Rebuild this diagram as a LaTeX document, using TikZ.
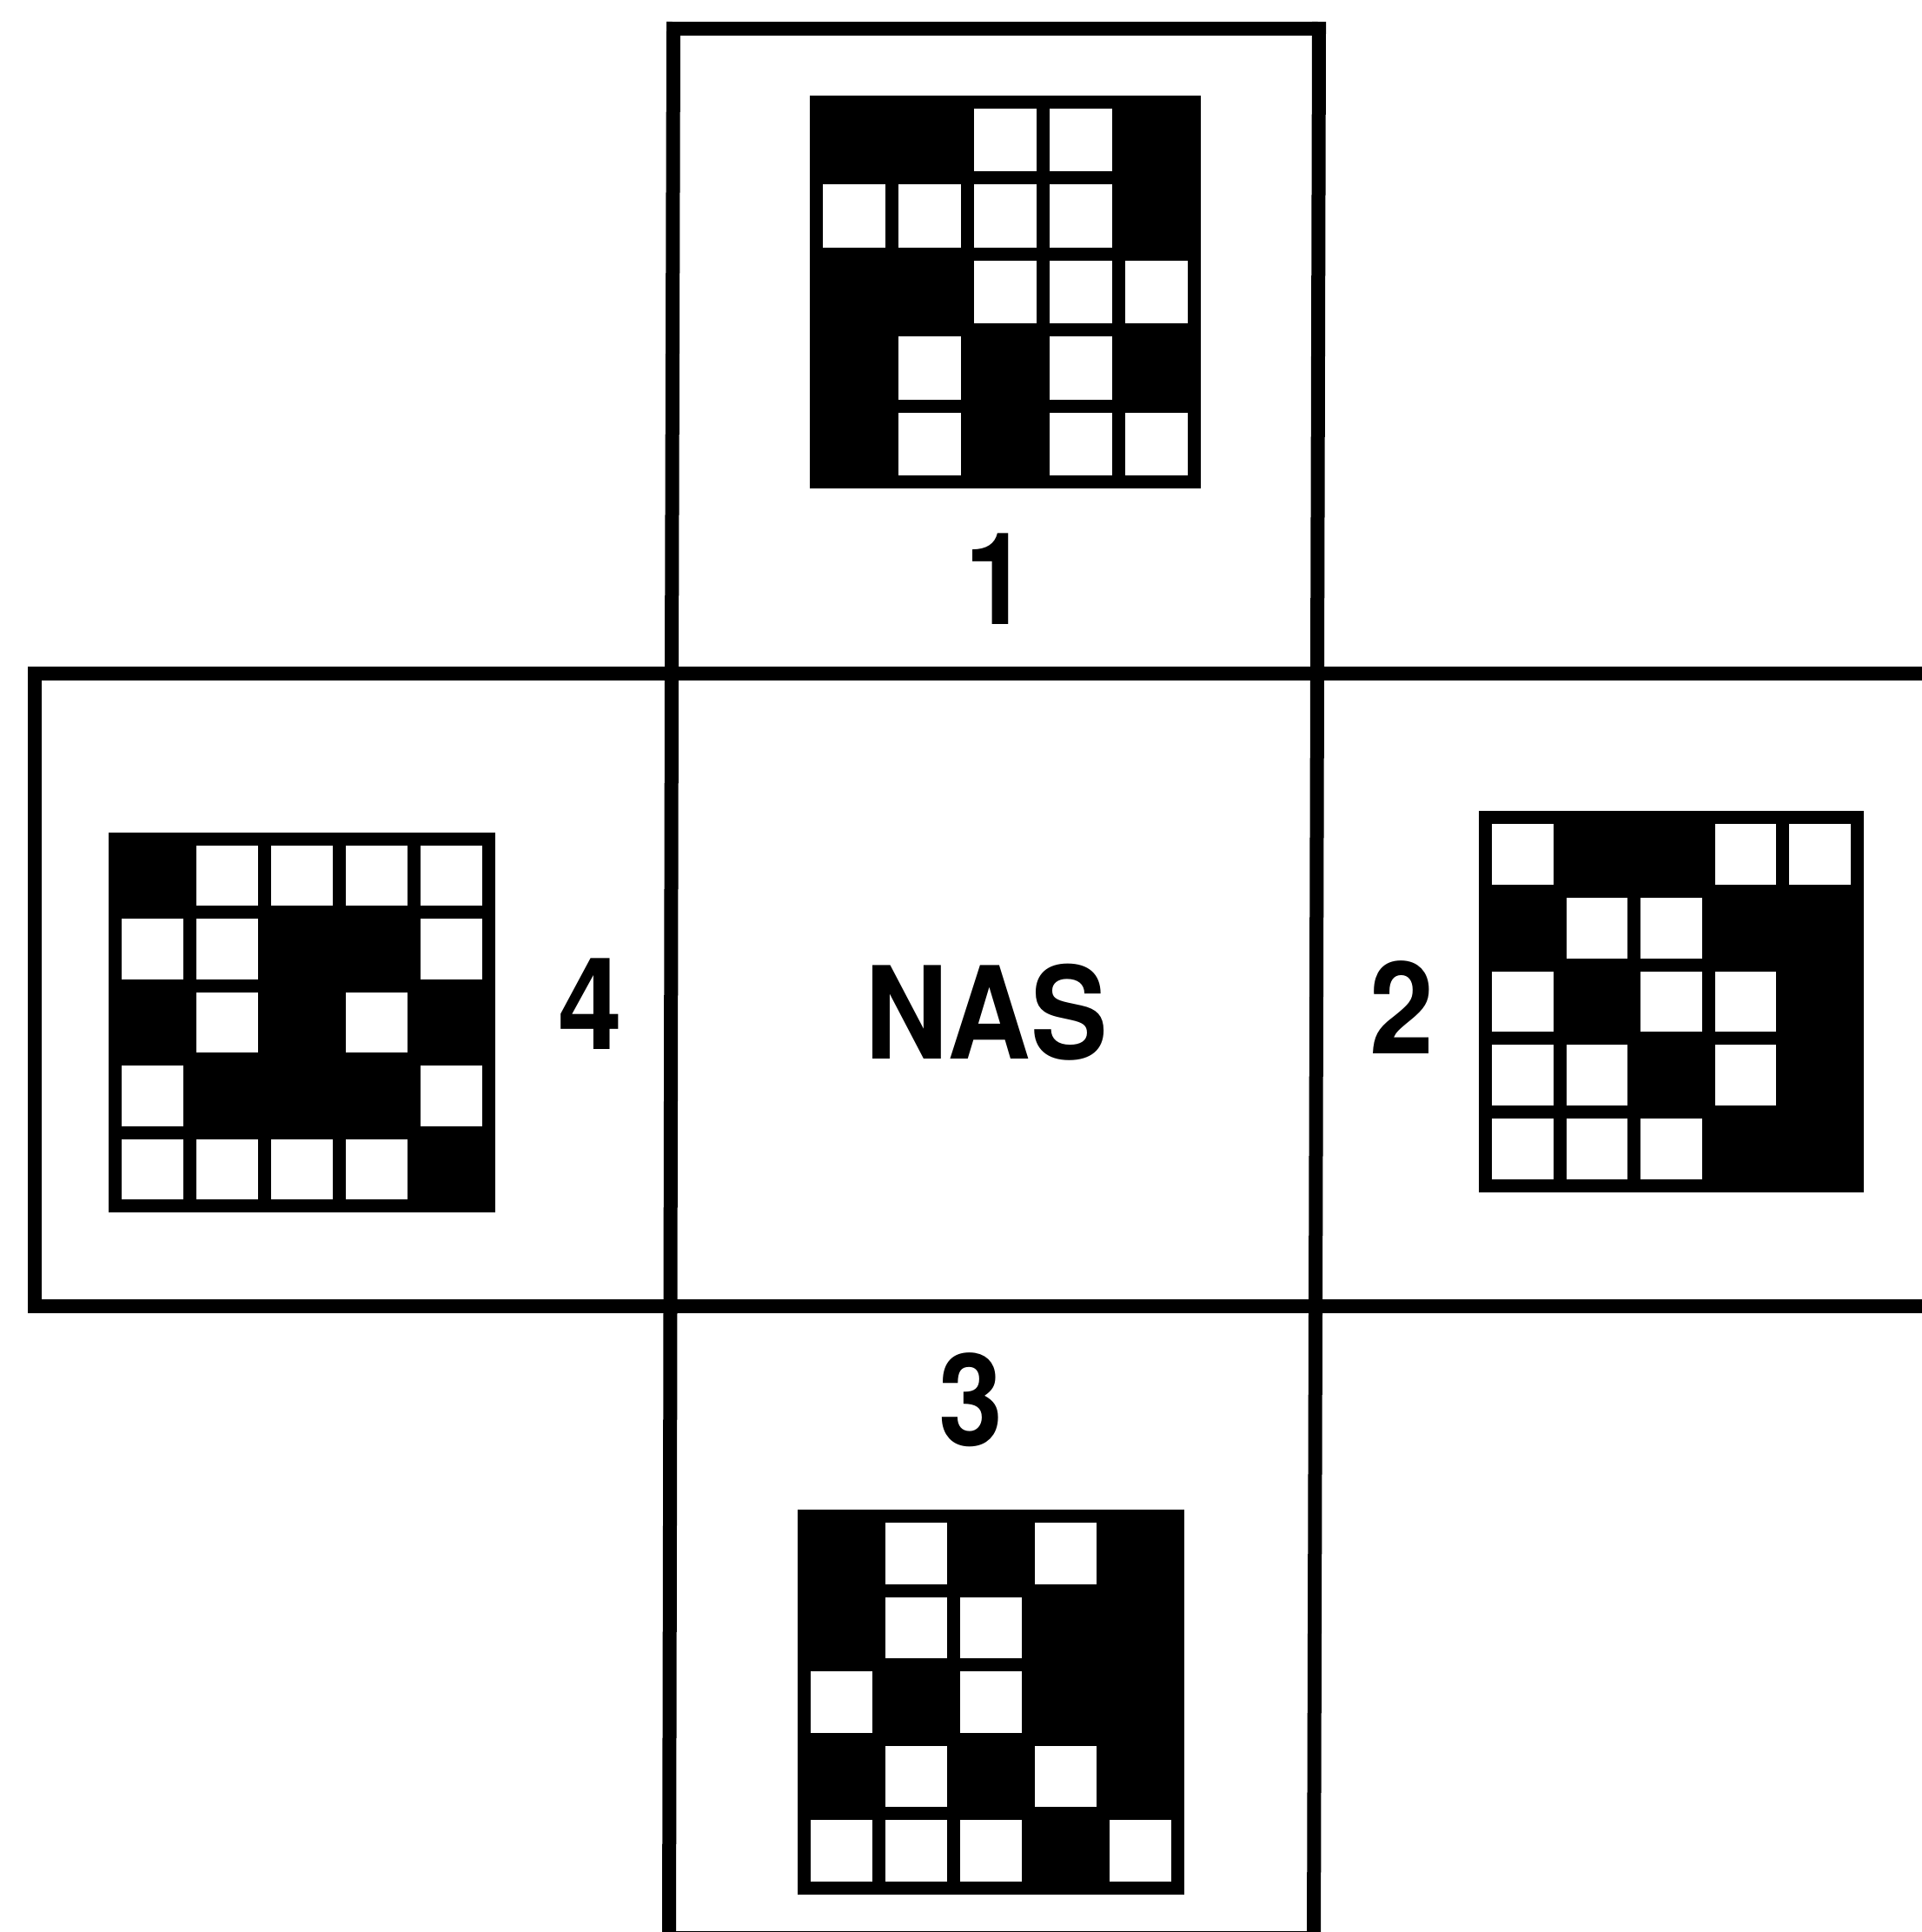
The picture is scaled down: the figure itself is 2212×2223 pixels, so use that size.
\documentclass[tikz,border=0pt]{standalone}
\usepackage{fontspec}
\setmainfont{TeX Gyre Heros}
\tikzset{
  frame/.style={line width=16*0.1mm, line cap=rect, line join=miter, black},
  lbl/.style={inner sep=0pt, anchor=base, font=\fontsize{42}{42}\selectfont\bfseries},
}
\newcommand\narrow[1]{\scalebox{0.9}[1]{#1}}
\newcommand\drawgrid[5]{%
  \fill[black] (#1,-#2) rectangle ++(#3,-#4);
  \pgfmathsetmacro\gcw{(#3-30-4*15)/5}%
  \pgfmathsetmacro\gch{(#4-30-4*15)/5}%
  \foreach \gci/\gri in {#5}{%
    \fill[white] ({#1+15+(\gci-1)*(\gcw+15)},{-#2-15-(\gri-1)*(\gch+15)}) rectangle ++(\gcw,-\gch);
  }%
}
\begin{document}
\begin{tikzpicture}[x=0.1mm,y=0.1mm]
\useasboundingbox (0,0) rectangle (2212,-2223);
\clip (0,0) rectangle (2212,-2223);
\fill[white] (0,0) rectangle (2212,-2223);
% frame lines
\draw[frame] (775,-33) -- (1518,-33);
\draw[frame] (775,-33) -- (773,-775) -- (770,-2240);
\draw[frame] (1518,-33) -- (1516,-775) -- (1512,-2240);
\draw[frame] (40,-775) -- (2240,-775);
\draw[frame] (40,-1503) -- (2240,-1503);
\draw[frame] (40,-775) -- (40,-1503);
\draw[frame, line cap=butt] (770,-2230) -- (1512,-2230);
% grids
\drawgrid{932}{110}{450}{452}{3/1,4/1,1/2,2/2,3/2,4/2,3/3,4/3,5/3,2/4,4/4,2/5,4/5,5/5}
\drawgrid{1702}{933}{443}{439}{1/1,4/1,5/1,2/2,3/2,1/3,3/3,4/3,1/4,2/4,4/4,1/5,2/5,3/5}
\drawgrid{918}{1737}{445}{443}{2/1,4/1,2/2,3/2,1/3,3/3,2/4,4/4,1/5,2/5,3/5,5/5}
\drawgrid{125}{958}{445}{437}{2/1,3/1,4/1,5/1,1/2,2/2,5/2,2/3,4/3,1/4,5/4,1/5,2/5,3/5,4/5}
% labels
\node[lbl] (n1) at (1147,-718) {\narrow{1}};
\node[lbl] (n4) at (679,-1207) {\narrow{4}};
\node[lbl] (nas) at (1135,-1218) {\narrow{NAS}};
\node[lbl] (n2) at (1613,-1212) {\narrow{2}};
\node[lbl] (n3) at (1117,-1663) {\narrow{3}};
\end{tikzpicture}
\end{document}
